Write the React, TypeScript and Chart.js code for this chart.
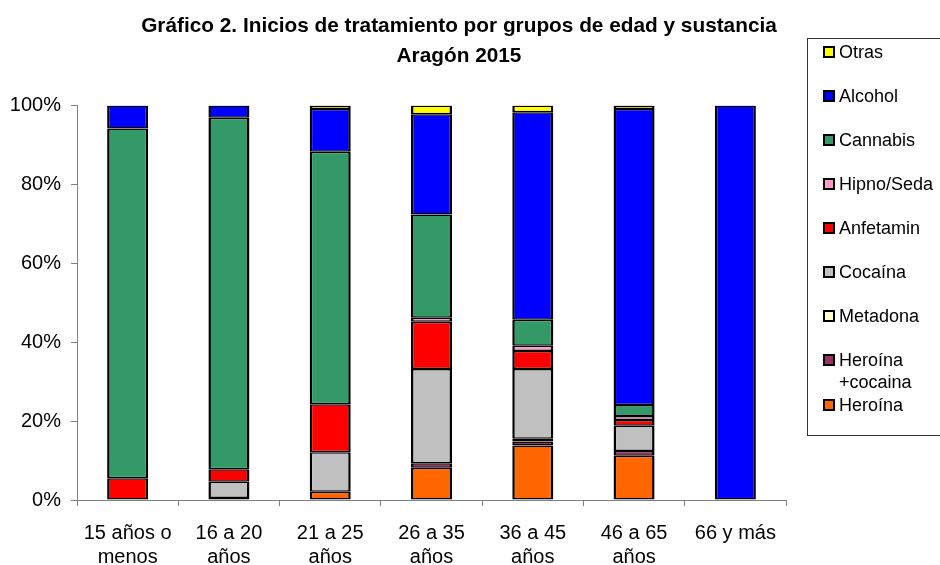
import React, { useEffect, useRef } from "react";
import { Chart, registerables } from "chart.js";

Chart.register(...registerables);

const categories: (string | string[])[] = [
  ["15 años o", "menos"],
  ["16 a 20", "años"],
  ["21 a 25", "años"],
  ["26 a 35", "años"],
  ["36 a 45", "años"],
  ["46 a 65", "años"],
  "66 y más",
];

const heroina = [0, 0.5, 2.1, 8.2, 13.8, 11.2, 0];
const heroinaCocaina = [0, 0, 0, 1.1, 1.0, 1.2, 0];
const metadona = [0, 0, 0, 0, 0.7, 0, 0];
const cocaina = [0, 4.1, 10.0, 23.9, 17.7, 6.4, 0];
const anfetamin = [5.5, 3.2, 12.2, 12.0, 4.6, 1.5, 0];
const hipno = [0, 0, 0, 1.0, 1.3, 1.0, 0];
const cannabis = [88.7, 89.1, 64.0, 26.2, 6.6, 2.8, 0];
const alcohol = [5.8, 3.1, 10.8, 25.4, 52.6, 75.0, 100];
const otras = [0, 0, 0.9, 2.2, 1.7, 0.9, 0];

const yTicks = [0, 20, 40, 60, 80, 100];

const series = [
  { label: "Heroína", data: heroina, color: "#FF6600" },
  { label: "Heroína +cocaina", data: heroinaCocaina, color: "#993366" },
  { label: "Metadona", data: metadona, color: "#FFFFCC" },
  { label: "Cocaína", data: cocaina, color: "#C0C0C0" },
  { label: "Anfetamin", data: anfetamin, color: "#FF0000" },
  { label: "Hipno/Seda", data: hipno, color: "#FF99CC" },
  { label: "Cannabis", data: cannabis, color: "#339966" },
  { label: "Alcohol", data: alcohol, color: "#0000FF" },
  { label: "Otras", data: otras, color: "#FFFF00" },
];

const legendItems = [
  { lines: ["Otras"], color: "#FFFF00", y: 52 },
  { lines: ["Alcohol"], color: "#0000FF", y: 96 },
  { lines: ["Cannabis"], color: "#339966", y: 140 },
  { lines: ["Hipno/Seda"], color: "#FF99CC", y: 184 },
  { lines: ["Anfetamin"], color: "#FF0000", y: 228 },
  { lines: ["Cocaína"], color: "#C0C0C0", y: 272 },
  { lines: ["Metadona"], color: "#FFFFCC", y: 316 },
  { lines: ["Heroína", "+cocaina"], color: "#993366", y: 360 },
  { lines: ["Heroína"], color: "#FF6600", y: 405 },
];

const FONT = "'Liberation Sans', Arial, sans-serif";

export default function App() {
  const ref = useRef<HTMLCanvasElement | null>(null);

  useEffect(() => {
    if (!ref.current) return;
    const chart = new Chart(ref.current, {
      type: "bar",
      data: {
        labels: categories,
        datasets: series.map((s) => ({
          label: s.label,
          data: s.data,
          backgroundColor: s.color,
          borderColor: "#000000",
          borderWidth: { left: 2.5, right: 2.5, top: 1.5, bottom: 1.5 },
          borderSkipped: false,
          inflateAmount: 0,
          categoryPercentage: 1,
          barPercentage: 0.405,
        })),
      },
      options: {
        responsive: false,
        animation: false,
        devicePixelRatio: 1,
        layout: { padding: { top: 105.5, left: 0, right: 154, bottom: 0 } },
        plugins: {
          legend: { display: false },
          title: { display: false },
          tooltip: { enabled: false },
        },
        scales: {
          x: {
            stacked: true,
            afterFit: (scale: any) => {
              scale.height = 65;
            },
            border: { display: true, color: "#808080", width: 1 },
            grid: {
              display: true,
              offset: true,
              drawOnChartArea: false,
              drawTicks: true,
              tickLength: 6,
              color: "#808080",
            },
            ticks: {
              color: "#000000",
              font: { family: FONT, size: 20, lineHeight: 1.2 },
              padding: 15,
              maxRotation: 0,
              minRotation: 0,
              autoSkip: false,
            },
          },
          y: {
            stacked: true,
            min: 0,
            max: 100,
            afterFit: (scale: any) => {
              scale.width = 77;
            },
            afterBuildTicks: (scale: any) => {
              scale.ticks = yTicks.map((v) => ({ value: v }));
            },
            border: { display: true, color: "#808080", width: 1 },
            grid: {
              display: true,
              drawOnChartArea: false,
              drawTicks: true,
              tickLength: 6,
              color: "#808080",
            },
            ticks: {
              color: "#000000",
              font: { family: FONT, size: 20 },
              padding: 10,
              callback: (v: any) => v + "%",
            },
          },
        },
      },
    });
    return () => chart.destroy();
  }, []);

  return (
    <div
      style={{
        position: "absolute",
        left: 0,
        top: 0,
        width: 940,
        height: 565,
        background: "#ffffff",
        overflow: "hidden",
        fontFamily: FONT,
      }}
    >
      <canvas ref={ref} width={940} height={565} style={{ position: "absolute", left: 0, top: 0 }} />
      <div
        style={{
          position: "absolute",
          left: 109,
          top: 10,
          width: 700,
          textAlign: "center",
          fontWeight: "bold",
          fontSize: 20.8,
          lineHeight: "30px",
          color: "#000",
        }}
      >
        <div>Gráfico 2. Inicios de tratamiento por grupos de edad y sustancia</div>
        <div>Aragón 2015</div>
      </div>
      <div
        style={{
          position: "absolute",
          left: 807,
          top: 38,
          width: 200,
          height: 398,
          border: "1px solid #333",
          boxSizing: "border-box",
        }}
      />
      {legendItems.map((it) => (
        <div key={it.lines.join(" ")}>
          <div
            style={{
              position: "absolute",
              left: 823,
              top: it.y - 6,
              width: 12,
              height: 12,
              background: it.color,
              border: "2px solid #000",
              boxSizing: "border-box",
            }}
          />
          {it.lines.map((ln, i) => (
            <div
              key={i}
              style={{
                position: "absolute",
                left: 839,
                top: it.y - 11 + i * 22,
                height: 22,
                lineHeight: "22px",
                fontSize: 18,
                color: "#000",
                whiteSpace: "nowrap",
              }}
            >
              {ln}
            </div>
          ))}
        </div>
      ))}
    </div>
  );
}
